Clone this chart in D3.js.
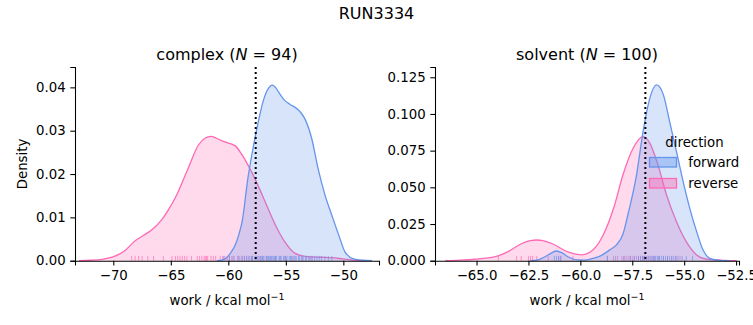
<!DOCTYPE html>
<html>
<head>
<meta charset="utf-8">
<script src="https://cdn.jsdelivr.net/npm/d3@7"></script>
<style>
  body { margin: 0; background: #fff; }
  svg { font-family: "DejaVu Sans", sans-serif; }
</style>
</head>
<body>
<div id="chart"></div>
<script>
// density curves: [work, density]
const complexForward = [
  [-61.0, 0], [-60.5, 0.0002], [-60.1, 0.0008], [-59.8, 0.0018], [-59.4, 0.0036],
  [-59.1, 0.0059], [-58.8, 0.0090], [-58.3, 0.0190], [-57.8, 0.0267], [-57.4, 0.0320],
  [-56.95, 0.0370], [-56.5, 0.0398], [-56.2, 0.0405], [-55.9, 0.0400], [-55.65, 0.0390],
  [-55.1, 0.0370], [-54.6, 0.0360], [-54.2, 0.0354], [-53.7, 0.0342], [-53.3, 0.0325],
  [-52.75, 0.0282], [-52.2, 0.0213], [-51.6, 0.0152], [-51.0, 0.0105], [-50.4, 0.0059],
  [-49.85, 0.0020], [-49.1, 0.0004], [-48.3, 0.0001], [-47.5, 0]
];
const complexReverse = [
  [-73.0, 0], [-72.0, 0.0001], [-71.0, 0.0003], [-70.1, 0.0008], [-69.0, 0.0023],
  [-68.1, 0.0046], [-67.4, 0.0058], [-66.7, 0.0070], [-65.8, 0.0094], [-65.2, 0.0118],
  [-64.6, 0.0146], [-63.5, 0.0213], [-62.6, 0.0267], [-62.0, 0.0283], [-61.5, 0.0287],
  [-61.0, 0.0282], [-60.3, 0.0274], [-59.4, 0.0265], [-58.8, 0.0244], [-58.3, 0.0221],
  [-57.7, 0.0190], [-56.8, 0.0136], [-55.9, 0.0082], [-55.1, 0.0044], [-54.2, 0.0017],
  [-53.3, 0.0010], [-52.0, 0.0008], [-51.0, 0.0007], [-50.0, 0.0004], [-49.0, 0.0001],
  [-48.0, 0]
];
const solventForward = [
  [-62.4, 0], [-62.0, 0.0008], [-61.7, 0.0027], [-61.4, 0.0052], [-61.15, 0.0066],
  [-60.9, 0.0055], [-60.6, 0.0027], [-60.1, 0.0005], [-59.8, 0.0004], [-59.4, 0.0016],
  [-59.0, 0.0035], [-58.6, 0.0072], [-58.25, 0.0110], [-57.95, 0.0180], [-57.7, 0.0320],
  [-57.3, 0.0580], [-56.98, 0.0880], [-56.65, 0.1110], [-56.33, 0.1198], [-56.0, 0.1130],
  [-55.7, 0.0948], [-55.37, 0.0743], [-55.05, 0.0539], [-54.73, 0.0357], [-54.4, 0.0198],
  [-54.09, 0.0073], [-53.77, 0.0016], [-53.3, 0.0002], [-52.8, 0]
];
const solventReverse = [
  [-66.5, 0], [-65.8, 0.0004], [-65.1, 0.0010], [-64.1, 0.0027], [-63.5, 0.0060],
  [-62.8, 0.0119], [-62.4, 0.0137], [-62.1, 0.0141], [-61.8, 0.0137], [-61.4, 0.0119],
  [-60.6, 0.0060], [-59.95, 0.0040], [-59.4, 0.0073], [-58.9, 0.0175], [-58.4, 0.0357],
  [-57.95, 0.0584], [-57.46, 0.0766], [-56.98, 0.0845], [-56.65, 0.0800], [-56.26, 0.0652],
  [-55.85, 0.0448], [-55.37, 0.0266], [-54.9, 0.0130], [-54.4, 0.0039], [-53.9, 0.0010],
  [-53.0, 0.0002], [-52.5, 0]
];

// individual work values (rug ticks)
const complexForwardRug = [-60.4, -59.9, -59.5, -59.1, -58.8, -58.6, -58.4, -58.2, -58.0, -57.9,
  -57.7, -57.5, -57.4, -57.2, -57.1, -57.0, -56.9, -56.7, -56.6, -56.5, -56.4, -56.3, -56.2,
  -56.1, -56.0, -55.9, -55.8, -55.6, -55.5, -55.4, -55.2, -55.1, -55.0, -54.9, -54.7, -54.6,
  -54.5, -54.3, -54.2, -54.1, -53.9, -53.8, -53.6, -53.5, -53.3, -53.2, -53.0, -52.9, -52.7,
  -52.5, -52.3, -52.1, -51.9, -51.6, -51.3, -51.0];
const complexReverseRug = [-68.4, -68.1, -67.8, -67.5, -67.0, -66.5, -65.65, -64.9, -64.6, -64.4,
  -64.2, -64.0, -63.8, -63.6, -63.2, -62.7, -62.5, -62.3, -62.1, -62.0, -61.9, -61.8, -61.5,
  -61.3, -61.1, -60.7, -60.5, -60.3, -60.1, -59.9, -59.7, -59.6, -59.2, -59.0, -58.8, -58.6,
  -58.4, -58.2, -58.0, -57.9, -57.6, -57.3, -57.0, -56.7, -56.3, -55.9, -55.5, -55.0, -54.4,
  -53.6, -52.8];
const solventForwardRug = [-61.25, -61.15, -61.05, -60.95, -58.7, -58.3, -57.9, -57.6, -57.4,
  -57.2, -57.1, -57.0, -56.9, -56.8, -56.7, -56.6, -56.5, -56.45, -56.4, -56.3, -56.25, -56.2,
  -56.1, -56.0, -55.9, -55.8, -55.7, -55.6, -55.5, -55.4, -55.3, -55.1, -54.9, -54.6];
const solventReverseRug = [-63.95, -63.07, -62.85, -62.5, -62.4, -62.3, -62.1, -61.55, -61.04,
  -60.94, -60.36, -58.7, -58.4, -58.2, -58.0, -57.9, -57.8, -57.7, -57.6, -57.5, -57.4, -57.3,
  -57.2, -57.1, -57.0, -56.95, -56.9, -56.8, -56.7, -56.6, -56.5, -56.4, -56.2, -56.0, -55.8,
  -55.6, -55.4, -55.2];

const complexMarker = -57.62;
const solventMarker = -56.87;

const complexXTicks = [-70, -65, -60, -55, -50];
const complexYTicks = [0, 0.01, 0.02, 0.03, 0.04];
const solventXTicks = [-65, -62.5, -60, -57.5, -55, -52.5];
const solventYTicks = [0, 0.025, 0.05, 0.075, 0.1, 0.125];

const directions = ["forward", "reverse"];
const colors = { forward: "#6495ED", reverse: "#FF69B4" };

const W = 753, H = 325;
const svg = d3.select("#chart").append("svg")
  .attr("width", W).attr("height", H);

svg.append("text")
  .attr("x", 376.5).attr("y", 19)
  .attr("text-anchor", "middle")
  .style("font-size", "16px")
  .text("RUN3334");

function panel(opts) {
  const x = d3.scaleLinear().domain(opts.xDomain).range([opts.left, opts.left + 304]);
  const y = d3.scaleLinear().domain(opts.yDomain).range([260.7, 67]);
  const g = svg.append("g");

  const area = d3.area()
    .x(d => x(d[0])).y0(y(0)).y1(d => y(d[1]))
    .curve(d3.curveMonotoneX);
  const line = d3.line()
    .x(d => x(d[0])).y(d => y(d[1]))
    .curve(d3.curveMonotoneX);

  // reverse first so forward sits on top
  [["reverse", opts.reverse, opts.reverseRug], ["forward", opts.forward, opts.forwardRug]]
    .forEach(([name, curve, rug]) => {
      g.append("path").attr("d", area(curve))
        .attr("fill", colors[name]).attr("fill-opacity", 0.25);
      g.append("path").attr("d", line(curve))
        .attr("fill", "none").attr("stroke", colors[name]).attr("stroke-width", 1.3);
      g.append("g").selectAll("line")
        .data(rug).enter().append("line")
        .attr("x1", d => x(d)).attr("x2", d => x(d))
        .attr("y1", y(0)).attr("y2", y(0) - 4.8)
        .attr("stroke", colors[name]).attr("stroke-opacity", 0.65).attr("stroke-width", 1);
    });

  g.append("line")
    .attr("x1", x(opts.marker)).attr("x2", x(opts.marker))
    .attr("y1", 67).attr("y2", 260.7)
    .attr("stroke", "#000").attr("stroke-width", 2)
    .attr("stroke-dasharray", "2,3");

  const xAxis = g.append("g")
    .attr("transform", "translate(0,260.7)")
    .call(d3.axisBottom(x).tickValues(opts.xTicks).tickFormat(d3.format(opts.xFmt))
      .tickSizeOuter(0).tickSize(4.7).tickPadding(4.7));
  const yAxis = g.append("g")
    .attr("transform", `translate(${opts.left},0)`)
    .call(d3.axisLeft(y).tickValues(opts.yTicks).tickFormat(d3.format(opts.yFmt))
      .tickSizeOuter(0).tickSize(4.7).tickPadding(4.7));
  [xAxis, yAxis].forEach(a => {
    a.selectAll("text").style("font-size", "13.3px").attr("fill", "#000")
      .style("font-family", "DejaVu Sans");
    a.selectAll("line, path").attr("stroke", "#000").attr("stroke-width", 1.07);
  });

  const title = g.append("text")
    .attr("x", opts.left + 152).attr("y", 59.5)
    .attr("text-anchor", "middle")
    .style("font-size", "16px");
  title.append("tspan").text(opts.name + " (");
  title.append("tspan").style("font-style", "italic").text("N");
  title.append("tspan").text(" = " + opts.n + ")");

  const xl = g.append("text")
    .attr("x", opts.left + 152).attr("y", 305)
    .attr("text-anchor", "middle")
    .style("font-size", "13.3px");
  xl.append("tspan").text("work / kcal mol");
  xl.append("tspan").attr("dy", -5).style("font-size", "9.5px").text("\u22121");
  return { x, y };
}

panel({
  name: "complex", n: 94, left: 75,
  xDomain: [-73.33, -46.9], yDomain: [0, 0.0447],
  forward: complexForward, reverse: complexReverse,
  forwardRug: complexForwardRug, reverseRug: complexReverseRug,
  marker: complexMarker, xTicks: complexXTicks, yTicks: complexYTicks,
  xFmt: "d", yFmt: ".2f"
});
panel({
  name: "solvent", n: 100, left: 435,
  xDomain: [-67.0, -52.36], yDomain: [0, 0.132],
  forward: solventForward, reverse: solventReverse,
  forwardRug: solventForwardRug, reverseRug: solventReverseRug,
  marker: solventMarker, xTicks: solventXTicks, yTicks: solventYTicks,
  xFmt: ".1f", yFmt: ".3f"
});

svg.append("text")
  .attr("transform", "translate(27,164) rotate(-90)")
  .attr("text-anchor", "middle")
  .style("font-size", "13.3px")
  .text("Density");

// legend
const legend = svg.append("g");
legend.append("text")
  .attr("x", 694.5).attr("y", 146.5)
  .attr("text-anchor", "middle")
  .style("font-size", "13.3px")
  .text("direction");
legend.selectAll("g.item")
  .data(directions).enter().append("g")
  .attr("class", "item")
  .attr("transform", (d, i) => `translate(0,${i * 21})`)
  .each(function (d) {
    const it = d3.select(this);
    it.append("rect")
      .attr("x", 649.5).attr("y", 157.5).attr("width", 27).attr("height", 9.5)
      .attr("fill", colors[d]).attr("fill-opacity", 0.4)
      .attr("stroke", colors[d]).attr("stroke-width", 1.3);
    it.append("text")
      .attr("x", 688.3).attr("y", 166.5)
      .style("font-size", "13.3px")
      .text(d);
  });
</script>
</body>
</html>
